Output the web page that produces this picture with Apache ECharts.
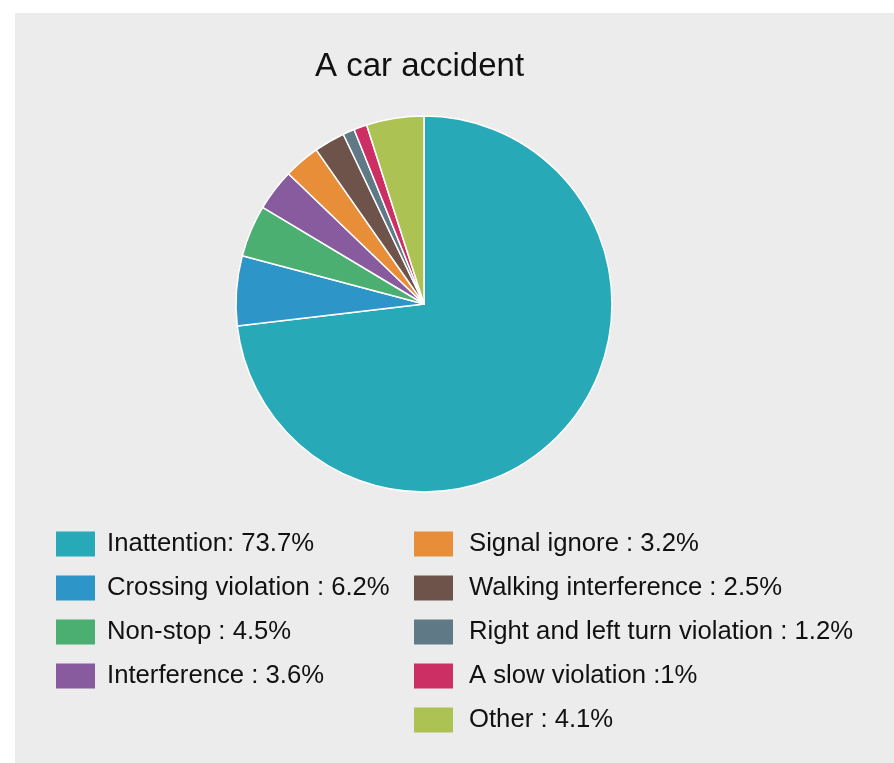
<!DOCTYPE html>
<html>
<head>
<meta charset="utf-8">
<script src="https://cdn.jsdelivr.net/npm/echarts@6/dist/echarts.min.js"></script>
<style>html,body{margin:0;padding:0;background:#fff;}#c{width:894px;height:763px;}</style>
</head>
<body>
<div id="c"></div>
<script>
var categories = ['Inattention', 'Crossing violation', 'Non-stop', 'Interference', 'Signal ignore', 'Walking interference', 'Right and left turn violation', 'A slow violation', 'Other'];
// slice sizes as drawn in the picture
var values = [73.1, 6.0, 4.45, 3.6, 3.1, 2.65, 1.0, 1.13, 4.93];
// legend texts as printed
var legendLabels = ['Inattention: 73.7%', 'Crossing violation : 6.2%', 'Non-stop : 4.5%', 'Interference : 3.6%', 'Signal ignore : 3.2%', 'Walking interference : 2.5%', 'Right and left turn violation : 1.2%', 'A slow violation :1%', 'Other : 4.1%'];
var colors = ['#27A9B8', '#2E95C9', '#4BAF72', '#875B9D', '#E98E38', '#6E534B', '#5F7A86', '#CB2F63', '#ACC353'];

var chart = echarts.init(document.getElementById('c'));
var labelMap = {};
categories.forEach(function (c, i) { labelMap[c] = legendLabels[i]; });
function legendOpt(left, data, pad) {
  return {
    left: left,
    top: 526,
    data: data,
    orient: 'vertical',
    itemWidth: 39,
    itemHeight: 25,
    itemGap: 18,
    icon: 'rect',
    selectedMode: false,
    itemStyle: { borderWidth: 0 },
    formatter: function (n) { return labelMap[n]; },
    textStyle: { fontFamily: 'Liberation Sans, Arial, sans-serif', fontSize: 25.7, lineHeight: 25, color: '#111', padding: [0, 0, 0, pad] }
  };
}
chart.setOption({
  color: colors,
  animation: false,
  graphic: [{ type: 'rect', z: -10, shape: { x: 15, y: 13, width: 879, height: 750 }, style: { fill: '#ECECEC' } }],
  title: {
    text: 'A car accident', left: 310, top: 45,
    textStyle: { fontFamily: 'Liberation Sans, Arial, sans-serif', fontSize: 33, fontWeight: 'normal', color: '#111' }
  },
  legend: [
    legendOpt(51, categories.slice(0, 4), 7),
    legendOpt(409, categories.slice(4), 11)
  ],
  series: [{
    type: 'pie',
    center: [424, 304],
    radius: 188,
    startAngle: 90,
    clockwise: true,
    label: { show: false },
    labelLine: { show: false },
    emphasis: { disabled: true },
    itemStyle: { borderColor: '#fff', borderWidth: 1.5 },
    data: categories.map(function (c, i) { return { name: c, value: values[i] }; })
  }]
});
</script>
</body>
</html>
